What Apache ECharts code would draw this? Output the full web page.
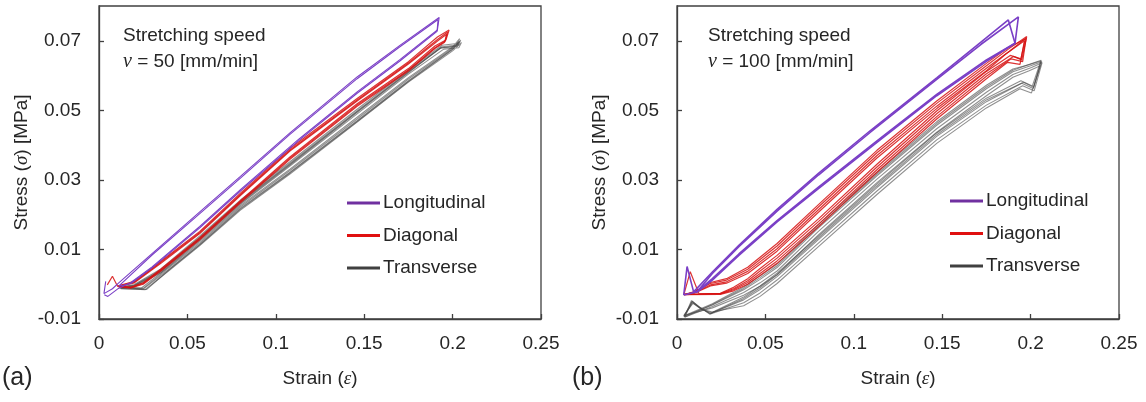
<!DOCTYPE html>
<html>
  <head>
    <meta charset="utf-8" />
    <title>Stress-strain hysteresis</title>
    <script src="https://cdn.jsdelivr.net/npm/echarts@6/dist/echarts.min.js"></script>
  </head>
  <body style="margin: 0; padding: 0; border: 0; background: #fff">
    <div id="main" style="width: 1146px; height: 402px"></div>
    <script type="text/javascript">
      // axis ticks
      var xTicks = [0, 0.05, 0.1, 0.15, 0.2, 0.25];
      var yTicks = [-0.01, 0.01, 0.03, 0.05, 0.07];
      var seriesNames = ["Longitudinal", "Diagonal", "Transverse"];
      var speeds = ["50", "100"];

      // (a) v = 50 mm/min : [strain, stress]
      var longA1 = [[0.0038,0.0008],[0.0028,-0.0027],[0.0076,-0.0013],[0.011,0.0003],[0.03,0.0088],[0.057,0.0208],[0.08,0.031],[0.108,0.0435],[0.146,0.0596],[0.17,0.0686],[0.1924,0.0767],[0.1914,0.0731],[0.17,0.0645],[0.146,0.0553],[0.113,0.0417],[0.08,0.0272],[0.057,0.0166],[0.03,0.005],[0.018,0.0005],[0.011,-0.0012],[0.005,-0.0035],[0.003,-0.003]];
      var longA2 = [[0.011,-0.0006],[0.03,0.0084],[0.057,0.0203],[0.08,0.0305],[0.108,0.0431],[0.146,0.0591],[0.17,0.0682],[0.1918,0.0761],[0.1912,0.0727],[0.17,0.0641],[0.146,0.0549],[0.113,0.0413],[0.08,0.0268],[0.057,0.0162],[0.03,0.0047],[0.018,0.0002],[0.011,-0.0006]];

      var diagA1 = [[0.0047,-0.0002],[0.0076,0.0023],[0.0104,-0.0005],[0.02,0.0008],[0.035,0.0066],[0.057,0.0152],[0.08,0.0262],[0.108,0.039],[0.146,0.0534],[0.175,0.064],[0.1914,0.0711],[0.198,0.0731],[0.1962,0.0702],[0.19,0.0685],[0.175,0.062],[0.146,0.0519],[0.108,0.0366],[0.08,0.024],[0.057,0.0134],[0.035,0.0044],[0.025,0.0004],[0.018,-0.0008],[0.0104,-0.0005]];
      var diagA2 = [[0.0104,-0.0006],[0.02,0.0006],[0.035,0.0063],[0.057,0.0149],[0.08,0.0258],[0.108,0.0386],[0.146,0.053],[0.175,0.0636],[0.1918,0.0705],[0.1972,0.0725],[0.1958,0.0699],[0.19,0.068],[0.175,0.0616],[0.146,0.0515],[0.108,0.0362],[0.08,0.0237],[0.057,0.0131],[0.035,0.0041],[0.025,0.0002],[0.018,-0.001],[0.0104,-0.0006]];
      var diagA3 = [[0.0108,-0.0007],[0.02,0.0004],[0.035,0.006],[0.057,0.0146],[0.08,0.0255],[0.108,0.0383],[0.146,0.0527],[0.175,0.0633],[0.1922,0.0702],[0.1966,0.0719],[0.1955,0.0696],[0.19,0.0678],[0.175,0.0613],[0.146,0.0512],[0.108,0.0359],[0.08,0.0234],[0.057,0.0128],[0.035,0.0038],[0.025,0.0],[0.018,-0.0011],[0.0108,-0.0007]];

      var transA1 = [[0.0113,-0.0008],[0.025,-0.0014],[0.04,0.0045],[0.057,0.0115],[0.08,0.0218],[0.108,0.0322],[0.146,0.047],[0.175,0.0585],[0.2,0.0676],[0.2046,0.0702],[0.203,0.0688],[0.194,0.0683],[0.175,0.0612],[0.146,0.0498],[0.108,0.0348],[0.08,0.0238],[0.057,0.0135],[0.035,0.004],[0.02,-0.0003],[0.0113,-0.0008]];
      var transA2 = [[0.0115,-0.001],[0.025,-0.0012],[0.04,0.0049],[0.057,0.0119],[0.08,0.0222],[0.108,0.0327],[0.146,0.0475],[0.175,0.059],[0.199,0.0675],[0.2035,0.0697],[0.202,0.0684],[0.193,0.0679],[0.175,0.0608],[0.146,0.0494],[0.108,0.0343],[0.08,0.0233],[0.057,0.013],[0.035,0.0036],[0.02,-0.0005],[0.0115,-0.001]];
      var transA3 = [[0.012,-0.0012],[0.026,-0.0016],[0.04,0.0041],[0.057,0.0111],[0.08,0.0213],[0.108,0.0317],[0.146,0.0466],[0.175,0.0581],[0.2,0.0671],[0.205,0.0695],[0.2035,0.068],[0.195,0.0676],[0.175,0.0604],[0.146,0.049],[0.108,0.034],[0.08,0.023],[0.057,0.0127],[0.035,0.0033],[0.02,-0.0007],[0.012,-0.0012]];
      var transA4 = [[0.0118,-0.0009],[0.024,-0.0011],[0.04,0.0052],[0.057,0.0123],[0.08,0.0226],[0.108,0.0331],[0.146,0.048],[0.175,0.0594],[0.2,0.0682],[0.204,0.0706],[0.2025,0.0692],[0.194,0.0687],[0.175,0.0616],[0.146,0.0503],[0.108,0.0352],[0.08,0.0242],[0.057,0.0139],[0.035,0.0044],[0.02,-0.0001],[0.0118,-0.0009]];
      var transA5 = [[0.0122,-0.0013],[0.027,-0.0015],[0.04,0.0043],[0.057,0.0113],[0.08,0.0216],[0.108,0.032],[0.146,0.0468],[0.175,0.0583],[0.1995,0.0673],[0.2042,0.0699],[0.2028,0.0685],[0.1935,0.068],[0.175,0.061],[0.146,0.0496],[0.108,0.0345],[0.08,0.0236],[0.057,0.0132],[0.035,0.0038],[0.02,-0.0004],[0.0122,-0.0013]];

      // (b) v = 100 mm/min
      var longB1 = [[0.0038,-0.0031],[0.0057,0.0051],[0.0094,-0.0022],[0.02,0.0035],[0.035,0.0112],[0.0566,0.0215],[0.08,0.0319],[0.1094,0.0442],[0.1469,0.0593],[0.17,0.0688],[0.1874,0.076],[0.1912,0.0693],[0.175,0.0645],[0.1469,0.0546],[0.1131,0.0412],[0.08,0.0279],[0.0566,0.0183],[0.035,0.0087],[0.02,0.0016],[0.011,-0.0022],[0.0038,-0.0031]];
      var longB2 = [[0.011,-0.0024],[0.02,0.0031],[0.035,0.0108],[0.0566,0.021],[0.08,0.0314],[0.1094,0.0437],[0.1469,0.0589],[0.172,0.069],[0.1931,0.0769],[0.1912,0.0693],[0.175,0.0641],[0.1469,0.0542],[0.1131,0.0408],[0.08,0.0275],[0.0566,0.0179],[0.035,0.0083],[0.02,0.0012],[0.011,-0.0024]];

      var diagB1 = [[0.0038,-0.0031],[0.0075,0.0036],[0.0123,-0.0026],[0.0245,-0.0027],[0.032,-0.0013],[0.04,0.001],[0.047,0.0038],[0.0566,0.0075],[0.08,0.018],[0.1131,0.0337],[0.1469,0.049],[0.175,0.0605],[0.1903,0.0655],[0.195,0.0645],[0.1978,0.0712],[0.1874,0.0676],[0.175,0.0628],[0.1469,0.052],[0.1131,0.0378],[0.08,0.0222],[0.0566,0.011],[0.04,0.0043],[0.028,0.0012],[0.0189,0.0002],[0.01,-0.0022],[0.0038,-0.0031]];
      var diagB2 = [[0.004,-0.003],[0.0245,-0.0026],[0.032,-0.0009],[0.04,0.0016],[0.047,0.0045],[0.0566,0.0083],[0.08,0.0188],[0.1131,0.0345],[0.1469,0.0498],[0.175,0.0612],[0.1885,0.0658],[0.1945,0.0648],[0.197,0.0705],[0.1865,0.0678],[0.175,0.0635],[0.1469,0.0527],[0.1131,0.0385],[0.08,0.0229],[0.0566,0.0117],[0.04,0.0049],[0.028,0.0016],[0.0189,0.0005],[0.01,-0.0021],[0.004,-0.003]];
      var diagB3 = [[0.004,-0.0029],[0.0245,-0.0028],[0.032,-0.0016],[0.04,0.0005],[0.047,0.0031],[0.0566,0.0067],[0.08,0.0172],[0.1131,0.0329],[0.1469,0.0482],[0.175,0.0598],[0.189,0.0648],[0.1955,0.064],[0.1975,0.0708],[0.188,0.067],[0.175,0.0621],[0.1469,0.0512],[0.1131,0.037],[0.08,0.0214],[0.0566,0.0102],[0.04,0.0037],[0.028,0.0007],[0.0189,-0.0002],[0.01,-0.0024],[0.004,-0.0029]];
      var diagB4 = [[0.004,-0.003],[0.0245,-0.0029],[0.032,-0.0019],[0.04,0.0],[0.047,0.0025],[0.0566,0.006],[0.08,0.0165],[0.1131,0.0322],[0.1469,0.0475],[0.175,0.0591],[0.187,0.0638],[0.194,0.0632],[0.1965,0.07],[0.186,0.0662],[0.175,0.0614],[0.1469,0.0505],[0.1131,0.0363],[0.08,0.0207],[0.0566,0.0095],[0.04,0.0031],[0.028,0.0003],[0.0189,-0.0005],[0.01,-0.0025],[0.004,-0.003]];

      var transB1 = [[0.0038,-0.0093],[0.0085,-0.005],[0.013,-0.0068],[0.0189,-0.0084],[0.0377,-0.0045],[0.047,-0.0015],[0.0566,0.0022],[0.08,0.0128],[0.1131,0.0278],[0.1469,0.0425],[0.175,0.0525],[0.195,0.0578],[0.2015,0.0563],[0.2063,0.064],[0.2,0.0628],[0.19,0.0611],[0.175,0.0562],[0.1469,0.0457],[0.1131,0.0312],[0.08,0.0162],[0.0566,0.0048],[0.047,0.0014],[0.0377,-0.0016],[0.02,-0.006],[0.0038,-0.0093]];
      var transB2 = [[0.004,-0.0091],[0.0088,-0.0053],[0.0135,-0.0071],[0.0195,-0.0082],[0.0377,-0.0037],[0.047,-0.0005],[0.0566,0.0032],[0.08,0.0138],[0.1131,0.0288],[0.1469,0.0435],[0.175,0.0535],[0.1945,0.0585],[0.201,0.057],[0.2058,0.0642],[0.1995,0.0632],[0.19,0.0619],[0.175,0.0572],[0.1469,0.0467],[0.1131,0.0322],[0.08,0.0172],[0.0566,0.0058],[0.047,0.0024],[0.0377,-0.0008],[0.02,-0.0056],[0.004,-0.0091]];
      var transB3 = [[0.0042,-0.0095],[0.0082,-0.0047],[0.0125,-0.0065],[0.0185,-0.0086],[0.0377,-0.0053],[0.047,-0.0025],[0.0566,0.0012],[0.08,0.0118],[0.1131,0.0268],[0.1469,0.0415],[0.175,0.0515],[0.1955,0.0571],[0.202,0.0556],[0.2065,0.0637],[0.2005,0.0623],[0.19,0.0603],[0.175,0.0552],[0.1469,0.0447],[0.1131,0.0302],[0.08,0.0152],[0.0566,0.0038],[0.047,0.0004],[0.0377,-0.0024],[0.02,-0.0064],[0.0042,-0.0095]];
      var transB4 = [[0.0038,-0.009],[0.009,-0.0055],[0.014,-0.0072],[0.02,-0.008],[0.0377,-0.0062],[0.047,-0.0035],[0.0566,0.0002],[0.08,0.0108],[0.1131,0.0258],[0.1469,0.0405],[0.175,0.0507],[0.194,0.0562],[0.2005,0.055],[0.2055,0.0628],[0.1992,0.0614],[0.19,0.0595],[0.175,0.0542],[0.1469,0.0437],[0.1131,0.0292],[0.08,0.0142],[0.0566,0.0028],[0.047,-0.0006],[0.0377,-0.0032],[0.02,-0.0068],[0.0038,-0.009]];
      var transB5 = [[0.0044,-0.0094],[0.0086,-0.0049],[0.0128,-0.0066],[0.0188,-0.0085],[0.0377,-0.0041],[0.047,-0.001],[0.0566,0.0027],[0.08,0.0133],[0.1131,0.0283],[0.1469,0.043],[0.175,0.053],[0.196,0.0581],[0.2018,0.0566],[0.206,0.0644],[0.2002,0.0634],[0.19,0.0615],[0.175,0.0567],[0.1469,0.0462],[0.1131,0.0317],[0.08,0.0167],[0.0566,0.0053],[0.047,0.0019],[0.0377,-0.0012],[0.02,-0.0058],[0.0044,-0.0094]];

      var panels = [
        { trans: [transA1, transA2, transA3, transA4, transA5], diag: [diagA1, diagA2, diagA3], long: [longA1, longA2] },
        { trans: [transB1, transB2, transB3, transB4, transB5], diag: [diagB1, diagB2, diagB3, diagB4], long: [longB1, longB2] },
      ];

      var FONT = "'Liberation Sans', Arial, sans-serif";
      var TXT = "#262626";
      var AX = "#404040";
      var colors = { Longitudinal: "#7a3fc6", Diagonal: "rgba(214,16,16,0.85)", Transverse: "rgba(70,70,70,0.6)" };
      var legendColors = { Longitudinal: "#7030a0", Diagonal: "#e01010", Transverse: "#404040" };
      var gridLeft = [99, 677];

      var myChart = echarts.init(document.getElementById("main"));

      var grids = [], xAxes = [], yAxes = [], series = [], legends = [], graphics = [];

      panels.forEach(function (p, i) {
        grids.push({
          left: gridLeft[i], top: 6, width: 442, height: 313,
          show: true, borderColor: AX, borderWidth: 1.3,
        });
        xAxes.push({
          gridIndex: i, type: "value", min: xTicks[0], max: xTicks[xTicks.length - 1], interval: 0.05,
          axisLine: { show: true, onZero: false, lineStyle: { color: AX, width: 1.3 } },
          axisTick: { inside: true, length: 5, lineStyle: { color: AX, width: 1.3 } },
          axisLabel: {
            margin: 15, fontSize: 19, color: TXT, fontFamily: FONT,
            formatter: function (v) { return String(+v.toFixed(2)); },
          },
          splitLine: { show: false },
          name: "Strain ({e|ε})", nameLocation: "middle", nameGap: 50,
          nameTextStyle: {
            fontSize: 19, color: TXT, fontFamily: FONT,
            rich: { e: { fontSize: 19, color: TXT, fontStyle: "italic", fontFamily: "'Liberation Serif', serif" } },
          },
        });
        yAxes.push({
          gridIndex: i, type: "value", min: yTicks[0], max: 0.08, interval: 0.02,
          axisLine: { show: true, onZero: false, lineStyle: { color: AX, width: 1.3 } },
          axisTick: { inside: true, length: 5, lineStyle: { color: AX, width: 1.3 } },
          axisLabel: {
            margin: 18, fontSize: 19, color: TXT, fontFamily: FONT, showMaxLabel: false,
            formatter: function (v) { return v > 0.075 ? "" : v.toFixed(2); },
          },
          splitLine: { show: false },
          name: "Stress ({s|σ}) [MPa]", nameLocation: "middle", nameGap: 68,
          nameTextStyle: {
            fontSize: 19, color: TXT, fontFamily: FONT,
            rich: { s: { fontSize: 19, color: TXT, fontStyle: "italic", fontFamily: "'Liberation Serif', serif" } },
          },
        });

        [["Transverse", p.trans, 1.1], ["Diagonal", p.diag, 1.2], ["Longitudinal", p.long, i ? 1.6 : 1.1]].forEach(function (s) {
          s[1].forEach(function (cycle) {
            series.push({
              name: s[0], type: "line", xAxisIndex: i, yAxisIndex: i,
              data: cycle, showSymbol: false, symbol: "none", silent: true,
              lineStyle: { color: colors[s[0]], width: s[2] },
              itemStyle: { color: colors[s[0]] },
            });
          });
        });

        legends.push({
          left: i ? 950 : 347, top: i ? 190 : 192, orient: "vertical", padding: 0,
          icon: "rect", itemWidth: 33, itemHeight: 3, itemGap: 10.5, selectedMode: false,
          textStyle: { fontSize: 19, lineHeight: 22, color: TXT, fontFamily: FONT, padding: [0, 0, 0, -2] },
          data: seriesNames.map(function (n) { return { name: n, itemStyle: { color: legendColors[n] } }; }),
        });

        graphics.push({
          type: "text", left: i ? 708 : 123, top: 23,
          style: {
            text: "Stretching speed\n{v|ν} = " + speeds[i] + " [mm/min]",
            font: "19px " + FONT, fill: TXT, lineHeight: 26,
            rich: { v: { fontStyle: "italic", fontFamily: "'Liberation Serif', serif", fontSize: 20, fill: TXT } },
          },
        });
        graphics.push({
          type: "text", left: i ? 572 : 2, top: 366,
          style: { text: i ? "(b)" : "(a)", font: "25px " + FONT, fill: TXT },
        });
      });

      myChart.setOption({
        animation: false,
        grid: grids,
        xAxis: xAxes,
        yAxis: yAxes,
        legend: legends,
        graphic: graphics,
        series: series,
      });
    </script>
  </body>
</html>
